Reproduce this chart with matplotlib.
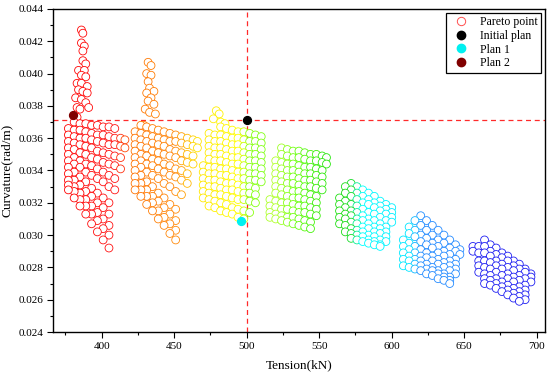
import numpy as np
import matplotlib
matplotlib.use('Agg')
import matplotlib.pyplot as plt
from matplotlib.colors import LinearSegmentedColormap, Normalize
from matplotlib.lines import Line2D
from matplotlib.ticker import MultipleLocator, FormatStrFormatter

_ = None

# Pareto points.
# Each cluster: column tension values and rows of curvature (None = no point).
red_cols = [377, 381, 385, 389, 393, 397, 401, 405, 409, 413, 416]
red_rows = [
    [_, .0370, .0369, .0369, .0368, .0368, .0367, .0367, .0366, _, _],
    [.0366, .0365, .0365, .0364, .0363, .0362, .0362, .0361, .0360, .0360, .0359],
    [.0362, .0361, .0360, .0360, .0359, .0358, .0357, .0356, .0356, .0355, .0354],
    [.0358, .0357, .0356, .0355, .0354, .0352, .0351, .0350, .0349, .0348, _],
    [.0354, .0353, .0351, .0350, .0348, .0347, .0345, .0344, .0343, .0341, _],
    [.0350, .0348, .0346, .0344, .0343, .0341, .0339, .0337, .0335, _, _],
    [.0346, .0344, .0342, .0339, .0337, .0335, .0333, .0330, .0328, _, _],
    [.0342, .0339, .0336, .0333, .0329, .0326, .0323, .0320, _, _, _],
    [.0338, .0334, .0331, .0327, .0324, .0320, .0317, .0313, _, _, _],
    [.0334, .0330, .0326, .0322, .0318, .0314, .0310, .0306, _, _, _],
    [.0331, .0327, .0322, .0318, .0313, .0309, .0304, .0300, _, _, _],
    [.0328, .0323, .0318, .0313, .0307, .0302, .0297, .0292, _, _, _],
]
red_top_x = [386, 387, 386, 388, 387, 387, 389, 384, 388, 386, 389, 383,
             386, 390, 384, 387, 390, 382, 386, 389, 383, 391, 385, 383]
red_top_y = [.0427, .0425, .0419, .0417, .0414, .0408, .0406, .0402, .0402, .0399,
             .0398, .0394, .0394, .0392, .0390, .0389, .0388, .0385, .0384, .0382,
             .0379, .0379, .0378, .0373]

orange_cols = [423, 427, 431, 435, 439, 443, 447, 451, 455, 459, 463, 466]
orange_rows = [
    [_, .0368, .0367, .0366, .0365, .0364, .0363, .0362, .0361, .0360, .0359, .0358],
    [.0364, .0363, .0362, .0361, .0360, .0359, .0358, .0358, .0357, .0356, .0355, .0354],
    [.0360, .0359, .0358, .0357, .0356, .0355, .0353, .0352, .0351, .0350, .0349, _],
    [.0356, .0355, .0354, .0352, .0351, .0350, .0349, .0348, .0346, .0345, .0344, _],
    [.0352, .0350, .0349, .0347, .0346, .0344, .0343, .0341, .0340, .0338, _, _],
    [.0348, .0346, .0344, .0343, .0341, .0339, .0337, .0336, .0334, .0332, _, _],
    [.0344, .0342, .0339, .0337, .0335, .0332, .0330, .0327, .0325, _, _, _],
    [.0340, .0337, .0333, .0330, .0326, .0323, .0319, .0316, _, _, _, _],
    [.0336, .0332, .0328, .0324, .0321, .0317, .0313, .0309, _, _, _, _],
    [.0332, .0328, .0324, .0320, .0315, .0311, .0307, .0303, _, _, _, _],
    [.0328, .0324, .0319, .0315, .0310, .0306, .0301, .0297, _, _, _, _],
]
orange_top_x = [432, 434, 431, 434, 432, 433, 436, 431, 434, 432, 436, 430, 433, 437, 429]
orange_top_y = [.0407, .0405, .0400, .0399, .0395, .0391, .0389, .0388, .0385, .0383,
                .0381, .0378, .0376, .0375, .0368]

yellow_cols = [470, 474, 478, 482, 486, 490, 494, 498, 502, 506, 510]
yellow_rows = [
    [_, _, _, .0367, .0366, .0365, .0364, .0364, .0363, .0362, .0361],
    [_, .0363, .0362, .0362, .0361, .0360, .0360, .0359, .0358, .0358, .0357],
    [_, .0359, .0358, .0358, .0357, .0356, .0356, .0355, .0354, .0354, .0353],
    [_, .0355, .0354, .0354, .0353, .0352, .0352, .0351, .0350, .0350, .0349],
    [_, .0351, .0350, .0350, .0349, .0348, .0348, .0347, .0346, .0346, .0345],
    [_, .0347, .0346, .0346, .0345, .0344, .0344, .0343, .0342, .0342, .0341],
    [.0343, .0342, .0342, .0341, .0341, .0340, .0339, .0339, .0338, .0338, .0337],
    [.0339, .0338, .0338, .0337, .0337, .0336, .0335, .0335, .0334, .0334, .0333],
    [.0335, .0334, .0334, .0333, .0332, .0332, .0331, .0330, .0330, .0329, _],
    [.0331, .0330, .0330, .0329, .0328, .0328, .0327, .0326, .0326, .0325, _],
    [.0327, .0326, .0325, .0325, .0324, .0323, .0322, .0322, .0321, .0320, _],
    [.0323, .0322, .0321, .0320, .0319, .0317, .0316, .0315, .0314, _, _],
    [_, .0318, .0317, .0315, .0314, .0313, .0311, .0310, _, _, _],
]
yellow_top_x = [479, 481, 477, 482, 485]
yellow_top_y = [.0377, .0375, .0372, .0370, .0369]

green_cols = [516, 520, 524, 528, 532, 536, 540, 544, 548, 552, 555]
green_rows = [
    [_, _, .0354, .0353, .0352, .0352, .0351, .0350, .0350, .0349, .0348],
    [_, _, .0350, .0349, .0348, .0348, .0347, .0346, .0346, .0345, .0344],
    [_, .0346, .0345, .0344, .0344, .0343, .0342, .0342, .0341, .0340, _],
    [_, .0342, .0341, .0340, .0340, .0339, .0338, .0338, .0337, .0336, _],
    [_, .0338, .0337, .0336, .0336, .0335, .0334, .0334, .0333, .0332, _],
    [_, .0334, .0333, .0332, .0332, .0331, .0330, .0330, .0329, .0328, _],
    [_, .0330, .0329, .0328, .0327, .0327, .0326, .0325, .0324, _, _],
    [_, .0326, .0325, .0324, .0323, .0323, .0322, .0321, .0320, _, _],
    [.0322, .0321, .0320, .0320, .0319, .0318, .0318, .0317, .0316, _, _],
    [.0318, .0317, .0316, .0316, .0315, .0314, .0314, .0313, .0312, _, _],
    [.0314, .0313, .0312, .0311, .0311, .0310, .0309, .0308, _, _, _],
    [.0311, .0310, .0309, .0308, .0307, .0306, .0305, .0304, _, _, _],
]

teal_cols = [564, 568, 572, 576, 580, 584, 588, 592, 596, 600]
teal_rows = [
    [_, _, .0332, .0330, .0328, .0326, .0324, .0321, .0319, .0317],
    [_, .0330, .0328, .0326, .0324, .0322, .0320, .0318, .0316, .0314],
    [_, .0326, .0324, .0322, .0320, .0319, .0317, .0315, .0313, .0311],
    [.0323, .0321, .0319, .0318, .0316, .0314, .0313, .0311, .0309, .0308],
    [.0319, .0317, .0315, .0314, .0312, .0310, .0309, .0307, .0305, _],
    [.0315, .0313, .0312, .0310, .0309, .0307, .0305, .0304, .0302, _],
    [.0311, .0310, .0308, .0307, .0305, .0304, .0302, .0301, .0299, _],
    [.0307, .0306, .0304, .0303, .0302, .0300, .0299, .0297, .0296, _],
    [_, .0302, .0301, .0300, .0299, .0297, .0296, .0294, _, _],
    [_, _, .0298, .0297, .0296, .0295, .0294, .0293, _, _],
]

sky_cols = [608, 612, 616, 620, 624, 628, 632, 636, 640, 644, 647]
sky_rows = [
    [_, _, _, .0312, .0309, .0306, .0303, .0300, .0297, .0294, .0291],
    [_, _, .0309, .0306, .0303, .0300, .0297, .0295, .0292, .0290, .0288],
    [_, .0305, .0303, .0300, .0298, .0295, .0293, .0290, .0288, .0285, _],
    [_, .0301, .0299, .0296, .0294, .0292, .0289, .0287, .0284, .0282, _],
    [.0297, .0295, .0293, .0291, .0289, .0287, .0285, .0283, .0281, .0279, _],
    [.0293, .0291, .0289, .0287, .0286, .0284, .0282, .0280, .0278, .0276, _],
    [.0289, .0287, .0285, .0284, .0282, .0280, .0278, .0276, .0274, _, _],
    [.0285, .0284, .0282, .0281, .0279, .0278, .0276, .0274, .0272, _, _],
    [.0281, .0280, .0279, .0278, .0276, .0275, .0273, .0272, .0270, _, _],
]

blue_cols = [656, 660, 664, 668, 672, 676, 680, 684, 688, 692, 696]
blue_rows = [
    [_, _, .0297, .0294, .0292, .0289, .0287, .0284, .0282, .0279, .0276],
    [.0293, .0293, .0293, .0290, .0288, .0286, .0284, .0281, .0279, .0277, .0274],
    [.0290, .0289, .0289, .0287, .0284, .0282, .0280, .0278, .0275, .0273, .0271],
    [_, .0284, .0284, .0283, .0281, .0279, .0276, .0274, .0272, .0269, _],
    [_, .0281, .0280, .0279, .0277, .0275, .0273, .0271, .0268, .0266, _],
    [_, .0277, .0276, .0275, .0273, .0271, .0269, .0267, .0265, .0263, _],
    [_, _, .0273, .0272, .0270, .0268, .0266, .0264, .0262, .0260, _],
    [_, _, .0270, .0269, .0267, .0265, .0263, .0261, .0259, _, _],
]

strands = [(red_top_x, red_top_y), (orange_top_x, orange_top_y), (yellow_top_x, yellow_top_y)]
clusters = [(red_cols, red_rows), (orange_cols, orange_rows), (yellow_cols, yellow_rows),
            (green_cols, green_rows), (teal_cols, teal_rows), (sky_cols, sky_rows),
            (blue_cols, blue_rows)]

initial_plan = (500, 0.03713)
plan_1 = (496, 0.0309)
plan_2 = (380.5, 0.03745)

# colour of a pareto point follows its tension
_stops = [(375, (1, 0, 0)), (408, (1, 0.08, 0.08)), (422, (1, 0.45, 0.0)),
          (452, (1, 0.55, 0.05)), (466, (1, 0.9, 0)), (495, (1, 1, 0)),
          (500, (0.55, 1, 0.05)), (512, (0.5, 1, 0.1)), (518, (0.75, 1, 0.2)),
          (535, (0.4, 1, 0.05)), (555, (0.15, 0.9, 0.05)), (572, (0.1, 0.85, 0.1)),
          (580, (0, 1, 1)), (612, (0, 0.9, 1)), (620, (0.15, 0.55, 1)),
          (650, (0.15, 0.55, 1)), (654, (0.12, 0.12, 0.95)), (700, (0.12, 0.12, 0.95))]
_lo, _hi = _stops[0][0], _stops[-1][0]
cmap = LinearSegmentedColormap.from_list(
    'pareto', [((v - _lo) / (_hi - _lo), c) for v, c in _stops])
norm = Normalize(_lo, _hi)

plt.rcParams['font.family'] = 'Liberation Serif'

fig = plt.figure(figsize=(5.5, 3.78), dpi=100)
ax = fig.add_axes([53 / 550, 1 - 332 / 378, 492 / 550, 323 / 378])


def draw(x, y):
    x = np.asarray(x, dtype=float)
    y = np.asarray(y, dtype=float)
    ok = ~np.isnan(y)
    ax.scatter(x[ok], y[ok], s=32, marker='o', facecolors='white',
               edgecolors=cmap(norm(x[ok])), linewidths=0.6, zorder=2)


for sx, sy in strands:
    draw(sx, sy)
for cols, rows in clusters:
    for row in rows:
        draw(cols, row)

ax.axhline(initial_plan[1], color='#ff2a2a', lw=0.9, ls=(0, (4, 3)), zorder=1)
ax.axvline(initial_plan[0], color='#ff2a2a', lw=0.9, ls=(0, (4, 3)), zorder=1)

ax.scatter(*initial_plan, s=32, color='black', zorder=4)
ax.scatter(*plan_1, s=32, color='#00f0f0', zorder=4)
ax.scatter(*plan_2, s=32, color='#800000', zorder=4)

ax.set_xlim(366.4, 705.7)
ax.set_ylim(0.024, 0.044)
ax.xaxis.set_major_locator(MultipleLocator(50))
ax.xaxis.set_minor_locator(MultipleLocator(25))
ax.yaxis.set_major_locator(MultipleLocator(0.002))
ax.yaxis.set_minor_locator(MultipleLocator(0.001))
ax.yaxis.set_major_formatter(FormatStrFormatter('%.3f'))
ax.tick_params(which='major', direction='out', length=4, width=0.8, labelsize=8, pad=3)
ax.tick_params(which='minor', direction='out', length=2, width=0.8)
for sp in ax.spines.values():
    sp.set_linewidth(1.0)

ax.set_xlabel('Tension(kN)', fontsize=9.5, labelpad=6)
ax.set_ylabel('Curvature(rad/m)', fontsize=9.5, labelpad=4)

handles = [
    Line2D([], [], ls='none', marker='o', markersize=6, markerfacecolor='white',
           markeredgecolor='#ff5050', markeredgewidth=0.7, label='Pareto point'),
    Line2D([], [], ls='none', marker='o', markersize=6, color='black', label='Initial plan'),
    Line2D([], [], ls='none', marker='o', markersize=6, color='#00f0f0', label='Plan 1'),
    Line2D([], [], ls='none', marker='o', markersize=6, color='#800000', label='Plan 2'),
]
leg = ax.legend(handles=handles, loc='upper right', fontsize=8.5, fancybox=False,
                framealpha=1, edgecolor='black', borderaxespad=0.3,
                handletextpad=0.6, labelspacing=0.15, borderpad=0.3)
leg.get_frame().set_linewidth(0.9)

fig.savefig('out.png', dpi=100)
